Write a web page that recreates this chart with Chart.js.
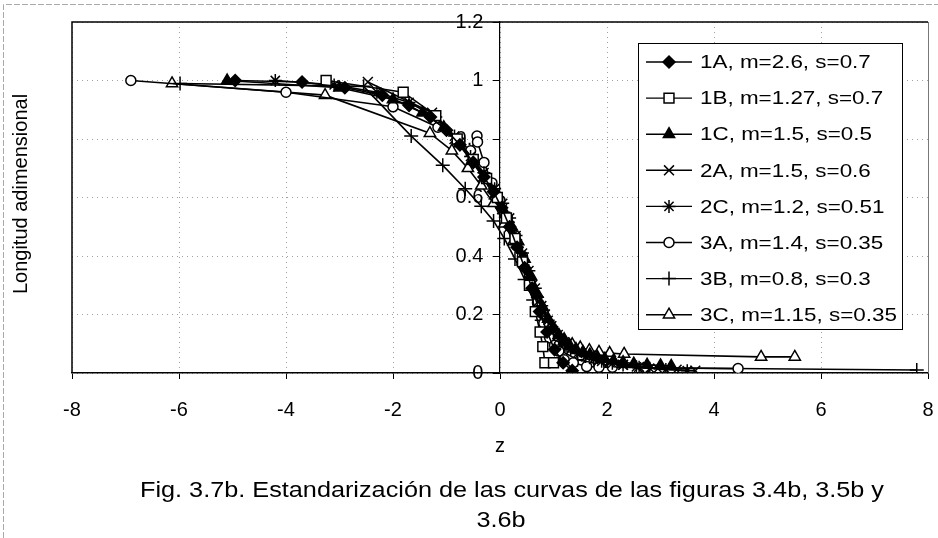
<!DOCTYPE html>
<html>
<head>
<meta charset="utf-8">
<script src="https://cdn.jsdelivr.net/npm/chart.js@4/dist/chart.umd.min.js"></script>
<style>
  html, body { margin: 0; padding: 0; background: #fff; overflow: hidden; }
  #wrap { width: 938px; height: 538px; overflow: hidden; }
  #wrap canvas { display: block; }
</style>
</head>
<body>
<div id="wrap"><canvas id="fig37b"></canvas></div>
<script>
// values: z (standardised) vs longitud adimensional
const z1A = [-4.95, -3.7, -2.9, -2.2, -1.7, -1.3, -1.0, -0.75, -0.5, -0.3, -0.12, 0.03, 0.18, 0.32, 0.46, 0.6, 0.74, 0.88, 1.02, 1.18, 1.35];
const v1A = [1.0, 0.995, 0.975, 0.95, 0.915, 0.875, 0.83, 0.78, 0.72, 0.67, 0.62, 0.565, 0.5, 0.43, 0.36, 0.29, 0.21, 0.14, 0.08, 0.035, 0.008];

const z1B = [-3.25, -1.81, -1.2, -0.8, -0.5, -0.25, -0.05, 0.12, 0.28, 0.42, 0.55, 0.66, 0.75, 0.8, 0.84, 1.0];
const v1B = [1.0, 0.96, 0.88, 0.8, 0.73, 0.665, 0.6, 0.53, 0.46, 0.38, 0.3, 0.21, 0.14, 0.09, 0.035, 0.035];

const z1C = [-5.1, -3.0, -2.0, -1.45, -1.05, -0.75, -0.5, -0.28, -0.08, 0.1, 0.22, 0.34, 0.46, 0.58, 0.7, 0.8, 0.9, 1.0, 1.1, 1.2, 1.3, 1.42, 1.55, 1.68, 1.82, 1.96, 2.12, 2.3, 2.5, 2.75, 3.0, 3.2];
const v1C = [1.0, 0.975, 0.935, 0.89, 0.84, 0.785, 0.725, 0.67, 0.61, 0.545, 0.5, 0.45, 0.39, 0.33, 0.27, 0.225, 0.185, 0.155, 0.13, 0.11, 0.095, 0.082, 0.072, 0.063, 0.055, 0.048, 0.042, 0.037, 0.032, 0.028, 0.026, 0.024];

const z2A = [-2.47, -1.27, -0.85, -0.55, -0.32, -0.12, 0.04, 0.18, 0.32, 0.46, 0.6, 0.72, 0.84, 0.96, 1.08, 1.2, 1.34, 1.5, 1.66, 1.85, 2.05, 2.3, 2.6, 2.95, 3.3, 3.65];
const v2A = [0.995, 0.89, 0.8, 0.73, 0.67, 0.61, 0.56, 0.5, 0.44, 0.37, 0.3, 0.245, 0.2, 0.16, 0.13, 0.105, 0.085, 0.068, 0.056, 0.045, 0.036, 0.028, 0.021, 0.015, 0.011, 0.008];

const z2C = [-4.2, -3.1, -2.3, -1.7, -1.2, -0.85, -0.55, -0.3, -0.1, 0.05, 0.18, 0.3, 0.42, 0.54, 0.66, 0.78, 0.9, 1.0, 1.1, 1.2, 1.32, 1.45, 1.6, 1.75, 1.9, 2.1, 2.3, 2.55, 2.8, 3.1, 3.5];
const v2C = [1.0, 0.985, 0.96, 0.925, 0.875, 0.81, 0.74, 0.685, 0.63, 0.58, 0.53, 0.47, 0.41, 0.35, 0.29, 0.23, 0.18, 0.145, 0.118, 0.097, 0.08, 0.067, 0.056, 0.047, 0.04, 0.033, 0.027, 0.021, 0.016, 0.012, 0.008];

const z3A = [-6.9, -4.0, -2.0, -1.16, -0.75, -0.55, -0.43, -0.42, -0.3, -0.15, 0.0, 0.14, 0.28, 0.42, 0.56, 0.7, 0.82, 0.93, 1.02, 1.1, 1.2, 1.37, 1.62, 1.85, 2.1, 2.71, 4.45];
const v3A = [1.0, 0.96, 0.91, 0.84, 0.79, 0.76, 0.81, 0.79, 0.72, 0.65, 0.59, 0.53, 0.47, 0.4, 0.32, 0.24, 0.17, 0.12, 0.095, 0.075, 0.045, 0.035, 0.022, 0.02, 0.02, 0.018, 0.015];

const z3B = [-5.98, -2.55, -1.66, -1.07, -0.65, -0.35, -0.12, 0.08, 0.28, 0.46, 0.62, 0.78, 0.95, 1.15, 1.45, 1.9, 2.6, 7.79];
const v3B = [0.99, 0.98, 0.81, 0.71, 0.63, 0.57, 0.52, 0.46, 0.39, 0.32, 0.25, 0.18, 0.12, 0.075, 0.045, 0.028, 0.018, 0.01];

const z3C = [-6.13, -3.27, -1.31, -0.9, -0.6, -0.35, -0.12, 0.08, 0.25, 0.42, 0.58, 0.74, 0.9, 1.05, 1.2, 1.35, 1.5, 1.67, 1.85, 2.05, 2.32, 4.88, 5.51];
const v3C = [0.99, 0.95, 0.82, 0.76, 0.7, 0.64, 0.58, 0.51, 0.45, 0.38, 0.31, 0.24, 0.18, 0.14, 0.115, 0.098, 0.087, 0.078, 0.072, 0.068, 0.065, 0.055, 0.055];

const seriesLabels = [
    '1A, m=2.6, s=0.7', '1B, m=1.27, s=0.7', '1C, m=1.5, s=0.5', '2A, m=1.5, s=0.6',
    '2C, m=1.2, s=0.51', '3A, m=1.4, s=0.35', '3B, m=0.8, s=0.3', '3C, m=1.15, s=0.35'
];
const zValues = [z1A, z1B, z1C, z2A, z2C, z3A, z3B, z3C];
const vValues = [v1A, v1B, v1C, v2A, v2C, v3A, v3B, v3C];

const xTickMin = -8, xTickMax = 8, xTickStep = 2;
const yTickMin = 0, yTickMax = 1.2, yTickStep = 0.2;

const xTitle = 'z';
const yTitle = 'Longitud adimensional';
const caption = ['Fig. 3.7b. Estandarización de las curvas de las figuras 3.4b, 3.5b y', '3.6b'];

// marker look per series (excel style b/w)
const markerStyle = [
    {style: 'rectRot', r: 6, fill: '#000'},
    {style: 'rect', r: 7, fill: '#fff'},
    {style: 'triangle', r: 6.5, fill: '#000'},
    {style: 'crossRot', r: 7, fill: '#000'},
    {style: 'star', r: 6.5, fill: '#000'},
    {style: 'circle', r: 5, fill: '#fff'},
    {style: 'cross', r: 7, fill: '#000'},
    {style: 'triangle', r: 6.5, fill: '#fff'}
];

const FONT = '"Liberation Sans", Arial, Helvetica, sans-serif';

let myDataSet = [];
for (let i = 0; i < seriesLabels.length; i++) {
    let pts = [];
    for (let j = 0; j < zValues[i].length; j++) {
        pts.push({x: zValues[i][j], y: vValues[i][j]});
    }
    myDataSet.push({
        label: seriesLabels[i],
        data: pts,
        showLine: true,
        borderColor: '#000',
        borderWidth: 1.6,
        pointStyle: markerStyle[i].style,
        pointRadius: markerStyle[i].r,
        pointBackgroundColor: markerStyle[i].fill,
        pointBorderColor: '#000',
        pointBorderWidth: 1.5,
        tension: 0
    });
}

// draws text squeezed/stretched to a given width (the scan isn't square)
function fitText(c, txt, cx, cy, targetW) {
    const w = c.measureText(txt).width;
    c.save();
    c.translate(cx, cy);
    c.scale(targetW / w, 1);
    c.fillText(txt, 0, 0);
    c.restore();
}

// frame, legend box, y title and caption
const excelBits = {
    id: 'excelBits',
    beforeDatasetsDraw(chart) {
        const {ctx, chartArea: a} = chart;
        ctx.save();
        ctx.strokeStyle = '#000';
        ctx.lineWidth = 1.5;
        ctx.beginPath();
        ctx.moveTo(a.left, a.bottom);
        ctx.lineTo(a.left, a.top);
        ctx.lineTo(a.right, a.top);
        ctx.stroke();
        ctx.strokeStyle = '#777';
        ctx.lineWidth = 1;
        ctx.beginPath();
        ctx.moveTo(a.right + 0.5, a.top);
        ctx.lineTo(a.right + 0.5, a.bottom);
        ctx.stroke();
        ctx.restore();
    },
    afterDraw(chart) {
        const ctx = chart.ctx;
        ctx.save();

        // scanned page edge
        ctx.strokeStyle = '#aaa';
        ctx.lineWidth = 1;
        ctx.setLineDash([6, 2]);
        ctx.beginPath();
        ctx.moveTo(3.5, 538);
        ctx.lineTo(3.5, 4.5);
        ctx.lineTo(938, 4.5);
        ctx.stroke();
        ctx.setLineDash([]);

        // legend
        const bx = 638, by = 43, bw = 264, bh = 286;
        ctx.fillStyle = '#fff';
        ctx.fillRect(bx, by, bw, bh);
        ctx.strokeStyle = '#000';
        ctx.lineWidth = 1;
        ctx.strokeRect(bx + 0.5, by + 0.5, bw, bh);
        ctx.font = '19px ' + FONT;
        ctx.textBaseline = 'middle';
        ctx.textAlign = 'left';
        const sx = 197 / ctx.measureText(seriesLabels[7]).width;
        chart.data.datasets.forEach((ds, i) => {
            const y = 62 + i * 36.1;
            ctx.strokeStyle = '#000';
            ctx.lineWidth = 1.4;
            ctx.beginPath();
            ctx.moveTo(646, y);
            ctx.lineTo(692, y);
            ctx.stroke();
            ctx.fillStyle = ds.pointBackgroundColor;
            ctx.strokeStyle = '#000';
            ctx.lineWidth = ds.pointBorderWidth;
            Chart.helpers.drawPoint(ctx, {pointStyle: ds.pointStyle, radius: ds.pointRadius, borderWidth: ds.pointBorderWidth, rotation: 0}, 669, y);
            ctx.fillStyle = '#000';
            ctx.save();
            ctx.translate(700, y + 1);
            ctx.scale(sx, 1);
            ctx.fillText(ds.label, 0, 0);
            ctx.restore();
        });

        // axis titles
        ctx.fillStyle = '#000';
        ctx.textAlign = 'center';
        ctx.font = '20px ' + FONT;
        ctx.save();
        ctx.translate(21, 194);
        ctx.rotate(-Math.PI / 2);
        ctx.fillText(yTitle, 0, 0);
        ctx.restore();
        ctx.font = '20px ' + FONT;
        ctx.fillText(xTitle, 500, 446);

        // caption (narrow face in the scan)
        ctx.font = '22px ' + FONT;
        const sc = 744 / ctx.measureText(caption[0]).width;
        fitText(ctx, caption[0], 512, 491, 744);
        fitText(ctx, caption[1], 501, 521, ctx.measureText(caption[1]).width * sc);
        ctx.restore();
    }
};

const ctx = document.getElementById('fig37b');
new Chart(ctx, {
    type: 'scatter',
    data: {datasets: myDataSet},
    options: {
        responsive: true,
        maintainAspectRatio: false,
        animation: false,
        events: [],
        layout: {padding: {left: 72, right: 10, top: 22, bottom: 0}},
        plugins: {legend: {display: false}, tooltip: {enabled: false}},
        scales: {
            x: {
                type: 'linear',
                min: xTickMin,
                max: xTickMax,
                afterFit: s => { s.height = 165; },
                // small padding keeps the right edge at 928; tall lineHeight drops the labels
                ticks: {stepSize: xTickStep, color: '#000', font: {size: 20, family: FONT, lineHeight: 2.9}, padding: 2},
                grid: {color: '#a0a0a0', lineWidth: 1, tickLength: 6, tickColor: '#000'},
                border: {color: '#000', width: 1.5, dash: [1, 4]}
            },
            y: {
                type: 'linear',
                position: {x: 0},
                min: yTickMin,
                max: yTickMax,
                ticks: {
                    stepSize: yTickStep,
                    color: '#000',
                    font: {size: 20, family: FONT},
                    // centred axis puts labels flush on the line, pad with spaces
                    callback: v => String(Number(v.toFixed(1))) + '   '
                },
                grid: {color: '#a0a0a0', lineWidth: 1, tickLength: 6, tickColor: '#000'},
                border: {color: '#000', width: 1.2, dash: [1, 4]}
            }
        }
    },
    plugins: [excelBits]
});
</script>
</body>
</html>
